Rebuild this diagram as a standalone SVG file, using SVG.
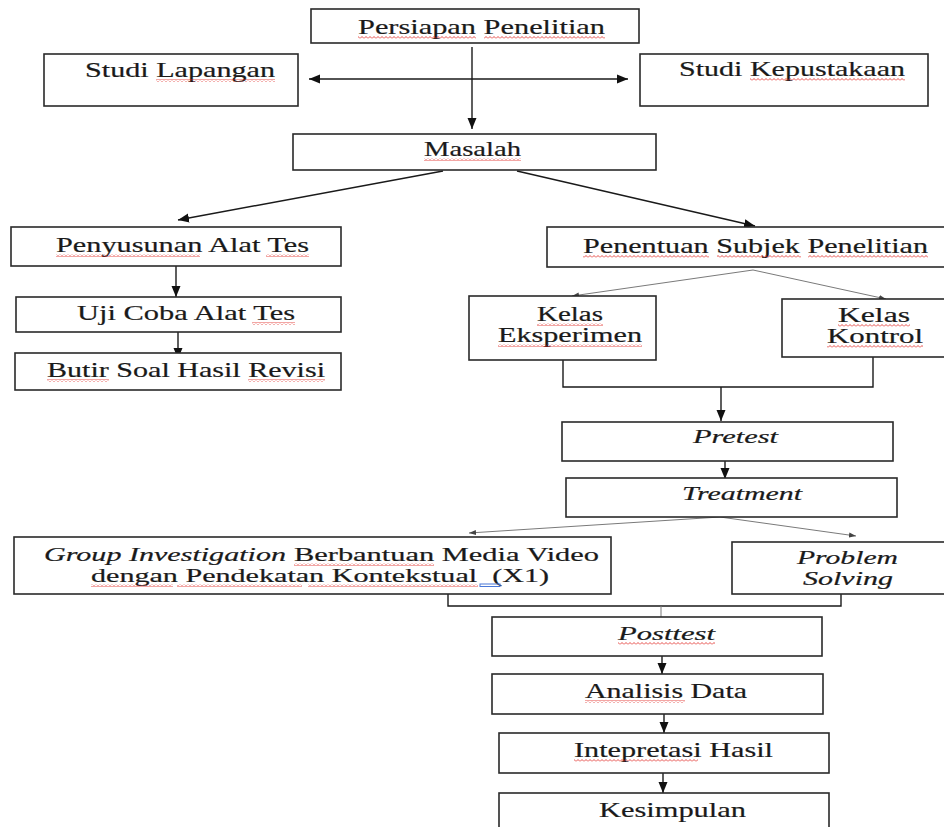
<svg xmlns="http://www.w3.org/2000/svg" width="944" height="827" viewBox="0 0 944 827">
<style>
.b{fill:#fff;stroke:#2a2a2a;stroke-width:1.6}
.t{font-size:22px;fill:#1a1a1a;stroke:#1a1a1a;stroke-width:0.2}
.m{font-size:19px}
.k{font-size:20px}
.i{font-style:italic;font-size:19px}
.c{fill:none;stroke:#1a1a1a;stroke-width:1.4}
.g{fill:none;stroke:#7a7a7a;stroke-width:1}
.sq{fill:url(#wv)}
</style>
<defs>
<marker id="ah" markerUnits="userSpaceOnUse" markerWidth="12" markerHeight="10" refX="11" refY="5" orient="auto-start-reverse"><path d="M0,0.5 L11,5 L0,9.5 z" fill="#111"/></marker>
<marker id="ahs" markerUnits="userSpaceOnUse" markerWidth="8" markerHeight="6" refX="7" refY="3" orient="auto"><path d="M0,0.5 L7,3 L0,5.5 z" fill="#444"/></marker>
<pattern id="wv" width="4" height="3" patternUnits="userSpaceOnUse"><path d="M0,2.5 L2,0.5 L4,2.5" fill="none" stroke="#e0201c" stroke-width="0.8"/></pattern>
</defs>
<g id="connectors">
<line class="c" x1="472" y1="47" x2="472" y2="129" marker-end="url(#ah)"/>
<line class="c" x1="309" y1="79" x2="628" y2="79" marker-start="url(#ah)" marker-end="url(#ah)"/>
<line class="c" x1="443" y1="171" x2="178" y2="220" marker-end="url(#ah)"/>
<line class="c" x1="517" y1="171" x2="755" y2="226" marker-end="url(#ah)"/>
<line class="c" x1="176" y1="266" x2="176" y2="297" marker-end="url(#ah)"/>
<line class="c" x1="178" y1="332" x2="178" y2="359" marker-end="url(#ah)"/>
<line class="g" x1="753" y1="270" x2="572" y2="296" marker-end="url(#ahs)"/>
<line class="g" x1="753" y1="270" x2="886" y2="299" marker-end="url(#ahs)"/>
<polyline class="c" points="563,360 563,387 873,387 873,357"/>
<line class="c" x1="721" y1="387" x2="721" y2="421" marker-end="url(#ah)"/>
<line class="c" x1="725" y1="461" x2="725" y2="479" marker-end="url(#ah)"/>
<line class="g" x1="720" y1="517" x2="469" y2="533" marker-end="url(#ahs)"/>
<line class="g" x1="720" y1="517" x2="856" y2="536" marker-end="url(#ahs)"/>
<polyline class="c" points="448,594 448,606 841,606 841,594"/>
<line class="g" x1="661" y1="606" x2="661" y2="617"/>
<line class="c" x1="662" y1="656" x2="662" y2="674" marker-end="url(#ah)"/>
<line class="c" x1="664" y1="714" x2="664" y2="733" marker-end="url(#ah)"/>
<line class="c" x1="663" y1="773" x2="663" y2="793" marker-end="url(#ah)"/>
</g>
<g font-family="'Liberation Serif', Tinos, 'Times New Roman', 'DejaVu Serif', serif">
<g id="persiapan">
<rect class="b" x="311" y="9" width="328" height="34"/>
<text class="t" x="358" y="34" textLength="247" lengthAdjust="spacingAndGlyphs">Persiapan Penelitian</text>
<rect class="sq" x="358" y="36" width="118" height="3"/><rect class="sq" x="484" y="36" width="121" height="3"/>
</g>
<g id="studi-lapangan">
<rect class="b" x="44" y="54" width="254" height="52"/>
<text class="t" x="85" y="77" textLength="190" lengthAdjust="spacingAndGlyphs">Studi Lapangan</text>
<rect class="sq" x="156" y="79" width="119" height="3"/>
</g>
<g id="studi-kepustakaan">
<rect class="b" x="640" y="54" width="288" height="52"/>
<text class="t" x="679" y="76" textLength="226" lengthAdjust="spacingAndGlyphs">Studi Kepustakaan</text>
<rect class="sq" x="750" y="78" width="155" height="3"/>
</g>
<g id="masalah">
<rect class="b" x="293" y="134" width="363" height="36"/>
<text class="t" x="424" y="156" textLength="97" lengthAdjust="spacingAndGlyphs">Masalah</text>
<rect class="sq" x="424" y="158" width="97" height="3"/>
</g>
<g id="penyusunan">
<rect class="b" x="11" y="227" width="330" height="39"/>
<text class="t" x="56" y="252" textLength="253" lengthAdjust="spacingAndGlyphs">Penyusunan Alat Tes</text>
<rect class="sq" x="56" y="254" width="144" height="3"/><rect class="sq" x="266" y="254" width="43" height="3"/>
</g>
<g id="penentuan">
<rect class="b" x="547" y="227" width="400" height="40"/>
<text class="t" x="583" y="253" textLength="345" lengthAdjust="spacingAndGlyphs">Penentuan Subjek Penelitian</text>
<rect class="sq" x="583" y="255" width="126" height="3"/><rect class="sq" x="717" y="255" width="84" height="3"/><rect class="sq" x="808" y="255" width="120" height="3"/>
</g>
<g id="uji-coba">
<rect class="b" x="16" y="297" width="325" height="35"/>
<text class="t" x="77" y="320" textLength="218" lengthAdjust="spacingAndGlyphs">Uji Coba Alat Tes</text>
<rect class="sq" x="252" y="322" width="43" height="3"/>
</g>
<g id="butir-soal">
<rect class="b" x="15" y="353" width="326" height="37"/>
<text class="t" x="47" y="377" textLength="278" lengthAdjust="spacingAndGlyphs">Butir Soal Hasil Revisi</text>
<rect class="sq" x="47" y="379" width="62" height="3"/><rect class="sq" x="248" y="379" width="77" height="3"/>
</g>
<g id="kelas-eksperimen">
<rect class="b" x="469" y="296" width="187" height="64"/>
<text class="t k" x="537" y="321" textLength="66" lengthAdjust="spacingAndGlyphs">Kelas</text>
<text class="t k" x="498" y="342" textLength="144" lengthAdjust="spacingAndGlyphs">Eksperimen</text>
<rect class="sq" x="537" y="323" width="66" height="3"/><rect class="sq" x="498" y="344" width="144" height="3"/>
</g>
<g id="kelas-kontrol">
<rect class="b" x="782" y="299" width="165" height="58"/>
<text class="t k" x="838" y="322" textLength="72" lengthAdjust="spacingAndGlyphs">Kelas</text>
<text class="t k" x="827" y="343" textLength="96" lengthAdjust="spacingAndGlyphs">Kontrol</text>
<rect class="sq" x="838" y="324" width="72" height="3"/><rect class="sq" x="827" y="345" width="96" height="3"/>
</g>
<g id="pretest">
<rect class="b" x="562" y="422" width="331" height="39"/>
<text class="t i" x="693" y="443" textLength="85" lengthAdjust="spacingAndGlyphs">Pretest</text>
</g>
<g id="treatment">
<rect class="b" x="566" y="478" width="331" height="39"/>
<text class="t i" x="682" y="500" textLength="120" lengthAdjust="spacingAndGlyphs">Treatment</text>
</g>
<g id="group-investigation">
<rect class="b" x="14" y="537" width="597" height="57"/>
<text class="t i" x="44" y="561" textLength="242" lengthAdjust="spacingAndGlyphs">Group Investigation</text>
<text class="t m" x="294" y="561" textLength="305" lengthAdjust="spacingAndGlyphs">Berbantuan Media Video</text>
<text class="t m" x="91" y="582" textLength="458" lengthAdjust="spacingAndGlyphs" xml:space="preserve">dengan Pendekatan Kontekstual  (X1)</text>
<rect class="sq" x="294" y="563" width="140" height="3"/>
<rect class="sq" x="91" y="584" width="82" height="3"/><rect class="sq" x="177" y="584" width="125" height="3"/><rect class="sq" x="308" y="584" width="170" height="3"/>
<rect x="480" y="584" width="20" height="2.5" fill="none" stroke="#4a78d8" stroke-width="1"/>
</g>
<g id="problem-solving">
<rect class="b" x="732" y="542" width="215" height="52"/>
<text class="t i" x="797" y="564" textLength="101" lengthAdjust="spacingAndGlyphs">Problem</text>
<text class="t i" x="803" y="585" textLength="90" lengthAdjust="spacingAndGlyphs">Solving</text>
</g>
<g id="posttest">
<rect class="b" x="492" y="617" width="330" height="39"/>
<text class="t i" x="618" y="640" textLength="97" lengthAdjust="spacingAndGlyphs">Posttest</text>
<rect class="sq" x="618" y="642" width="97" height="3"/>
</g>
<g id="analisis-data">
<rect class="b" x="492" y="674" width="331" height="40"/>
<text class="t" x="585" y="698" textLength="162" lengthAdjust="spacingAndGlyphs">Analisis Data</text>
<rect class="sq" x="585" y="700" width="100" height="3"/>
</g>
<g id="intepretasi-hasil">
<rect class="b" x="499" y="733" width="330" height="40"/>
<text class="t" x="574" y="757" textLength="199" lengthAdjust="spacingAndGlyphs">Intepretasi Hasil</text>
<rect class="sq" x="574" y="759" width="124" height="3"/>
</g>
<g id="kesimpulan">
<rect class="b" x="499" y="793" width="330" height="40"/>
<text class="t" x="599" y="817" textLength="147" lengthAdjust="spacingAndGlyphs">Kesimpulan</text>
</g>
</g>
</svg>
